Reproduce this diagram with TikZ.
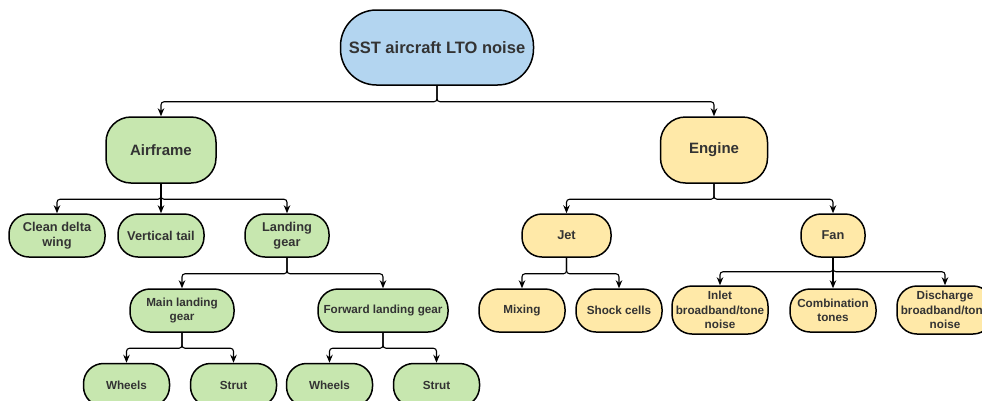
\documentclass[tikz,border=0pt]{standalone}
\usepackage{fontspec}
\setmainfont{Liberation Sans}
\usepackage{tikz}
\usetikzlibrary{positioning,arrows.meta}
\definecolor{rootblue}{HTML}{B3D5F0}
\definecolor{airgreen}{HTML}{C7E7AF}
\definecolor{enginey}{HTML}{FFE9A8}
\definecolor{textgray}{HTML}{333333}

\tikzset{
  box/.style={draw=black, line width=1.5pt, text=textgray, align=center, inner sep=0pt},
  topbox/.style={box, rounded corners=36pt, minimum height=75pt, font=\fontsize{16.5}{20}\selectfont\bfseries},
  midbox/.style={box, rounded corners=25pt, minimum height=66pt, font=\fontsize{15}{18}\selectfont\bfseries},
  subbox/.style={box, rounded corners=20pt, minimum height=43pt, font=\fontsize{12.8}{15.5}\selectfont\bfseries},
  leafbox/.style={box, rounded corners=20pt, minimum height=43pt, font=\fontsize{11.7}{14.3}\selectfont\bfseries},
  link/.style={line width=1.1pt, rounded corners=3pt, -{Stealth[length=8pt,width=6.5pt]}}
}

\begin{document}
\begin{tikzpicture}[x=1pt,y=-1pt]
  % Page frame (the right edge cuts the last box)
  \clip (0,0) rectangle (982,400);

  % Root
  \node[topbox,fill=rootblue,minimum width=193pt] (root) at (437,47.5) {SST aircraft LTO noise};

  % Airframe branch
  \node[midbox,fill=airgreen,minimum width=110pt] (air) at (161,150) {Airframe};
  \node[subbox,fill=airgreen,minimum width=96pt] (cdw) at (57,235.5) {Clean delta\\wing};
  \node[subbox,fill=airgreen,minimum width=86pt] (vt) at (161,235.5) {Vertical tail};
  \node[subbox,fill=airgreen,minimum width=84pt] (lg) at (287,235.5) {Landing\\gear};
  \node[leafbox,fill=airgreen,minimum width=104pt] (mlg) at (182,310.5) {Main landing\\gear};
  \node[leafbox,fill=airgreen,minimum width=130pt] (flg) at (383,310.5) {Forward landing gear};
  \node[leafbox,fill=airgreen,minimum width=86pt] (mwheels) at (126.5,385) {Wheels};
  \node[leafbox,fill=airgreen,minimum width=86pt] (mstrut) at (233.5,385) {Strut};
  \node[leafbox,fill=airgreen,minimum width=86pt] (fwheels) at (329.5,385) {Wheels};
  \node[leafbox,fill=airgreen,minimum width=86pt] (fstrut) at (436.5,385) {Strut};

  % Engine branch
  \node[midbox,fill=enginey,minimum width=107pt] (eng) at (714,150) {Engine};
  \node[subbox,fill=enginey,minimum width=89pt] (jet) at (566.5,235.5) {Jet};
  \node[subbox,fill=enginey,minimum width=64pt] (fan) at (833,235.5) {Fan};
  \node[leafbox,fill=enginey,minimum width=86pt] (mix) at (522,310.5) {Mixing};
  \node[leafbox,fill=enginey,minimum width=86pt] (shock) at (619,310.5) {Shock cells};
  \node[leafbox,fill=enginey,minimum width=96pt,minimum height=48pt] (inlet) at (720,310) {Inlet\\broadband/tone\\noise};
  \node[leafbox,fill=enginey,minimum width=86pt] (combo) at (833,310.5) {Combination\\tones};
  \node[leafbox,fill=enginey,minimum width=96pt,minimum height=48pt] (disch) at (945,310) {Discharge\\broadband/tone\\noise};

  % Connectors
  \foreach \kid in {air,eng}
    \draw[link] (root.south) -- ++(0,16) -| (\kid.north);
  \foreach \kid in {cdw,vt,lg}
    \draw[link] (air.south) -- ++(0,15.5) -| (\kid.north);
  \foreach \kid in {mlg,flg}
    \draw[link] (lg.south) -- ++(0,16) -| (\kid.north);
  \foreach \kid in {mwheels,mstrut}
    \draw[link] (mlg.south) -- ++(0,15.5) -| (\kid.north);
  \foreach \kid in {fwheels,fstrut}
    \draw[link] (flg.south) -- ++(0,15.5) -| (\kid.north);
  \foreach \kid in {jet,fan}
    \draw[link] (eng.south) -- ++(0,15.5) -| (\kid.north);
  \foreach \kid in {mix,shock}
    \draw[link] (jet.south) -- ++(0,16) -| (\kid.north);
  \foreach \kid in {inlet,combo,disch}
    \draw[link] (fan.south) -- ++(0,14) -| (\kid.north);
\end{tikzpicture}
\end{document}
